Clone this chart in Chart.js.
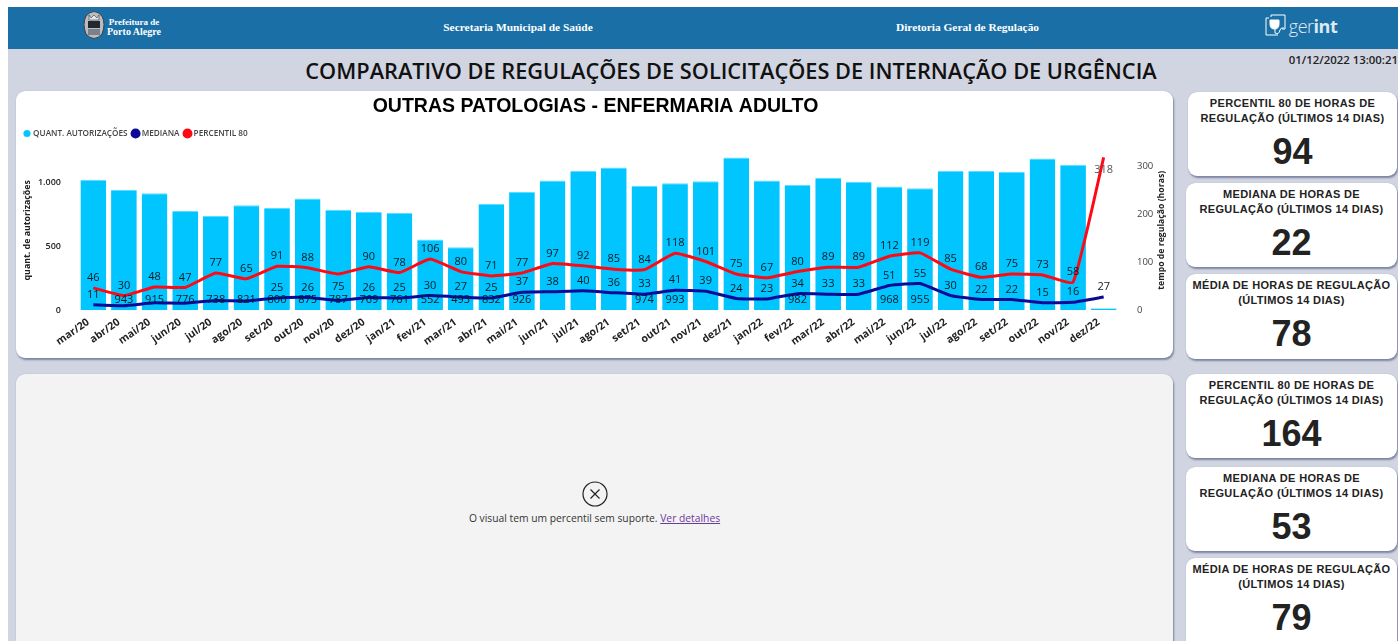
<!DOCTYPE html>
<html lang="pt-BR">
<head>
<meta charset="utf-8">
<title>Comparativo de regulações</title>
<script src="https://cdn.jsdelivr.net/npm/chart.js@4"></script>
<style>
html, body { margin: 0; padding: 0; background: #fff; overflow: hidden; }
#page { position: absolute; left: 8px; top: 7px; width: 1390px; height: 634px; background: #d1d5e1; overflow: hidden; }
.abs { position: absolute; }
#header { left: 0; top: 0; width: 1390px; height: 42px; background: #1a6fa6; color: #fff; }
#header span { position: absolute; top: 14px; font: bold 11.4px "Liberation Serif", serif; white-space: nowrap; transform: translateX(-50%); }
#maintitle { left: 0; top: 49px; width: 1446px; text-align: center; font: 600 21.75px "Open Sans", sans-serif; color: #111; white-space: nowrap; }
#stamp { right: 0; top: 45px; font: 600 11.4px "Open Sans", sans-serif; color: #222; }
.card { background: #fff; border-radius: 9px; box-shadow: 1px 2px 2px #7d84a3, 0 0 1px #9aa0b8; }
#chartcard { left: 8px; top: 84px; width: 1157px; height: 267px; }
#chartcard canvas { position: absolute; left: 0; top: 0; }
#errcard { left: 8px; top: 367px; width: 1157px; height: 280px; background: #f3f3f3; }
#errmsg { left: 0; top: 137px; width: 1157px; text-align: center; font: 10.3px "Open Sans", sans-serif; color: #333; }
#errmsg a { color: #6a3a9c; text-decoration: underline; }
#erricon { left: 566px; top: 107px; }
.kpi { left: 1178px; width: 211px; text-align: center; font-family: "Liberation Sans", Arial, sans-serif; color: #222; }
.kpi .t { position: absolute; left: 0; right: 0; top: 4px; font-weight: bold; font-size: 11px; line-height: 14.5px; letter-spacing: 0.35px; }
.kpi .v { position: absolute; left: 0; right: 0; top: 41px; font-weight: bold; font-size: 36px; line-height: 38px; }
</style>
</head>
<body>
<div id="page">
  <div id="header" class="abs">
    <svg class="abs" style="left:74px;top:3px" width="24" height="31" viewBox="0 0 24 31">
      <path d="M4 6 Q12 -3 20 6 Q24 14 20 24 Q12 33 4 24 Q0 14 4 6 Z" fill="#b9bdc2" stroke="#3a4046" stroke-width="1"/>
      <path d="M7 5 L9 8 L12 5 L15 8 L17 5 V10 H7 Z" fill="#e4e6e8" stroke="#3a4046" stroke-width="0.6"/>
      <rect x="6" y="11" width="12" height="7" fill="#23282e"/>
      <rect x="6" y="19" width="12" height="6" fill="#7a8188"/>
    </svg>
    <span style="left:126px;top:10px;font-size:9px;line-height:10px;text-align:center">Prefeitura de<br><b style="font-size:10px">Porto Alegre</b></span>
    <span style="left:510px">Secretaria Municipal de Saúde</span>
    <span style="left:959.5px">Diretoria Geral de Regulação</span>
    <svg class="abs" style="left:1257px;top:7px" width="22" height="22" viewBox="0 0 22 22" fill="none" stroke="#fff" stroke-width="1">
      <path d="M6 3 V1 H20 V15 H17"/>
      <path d="M4 4 H1 V21 H13"/>
      <path d="M5 6 H14 V10 Q14 15 9.5 15 Q5 15 5 10 Z" fill="#fff"/>
      <path d="M10 15 V19 Q14 21 15 16 Q16 13 19 14"/>
    </svg>
    <span style="left:1305px;top:7px;font:300 18px 'Open Sans',sans-serif;letter-spacing:-0.5px;opacity:.85">ger<b style="font-weight:700">int</b></span>
  </div>
  <div id="maintitle" class="abs">COMPARATIVO DE REGULAÇÕES DE SOLICITAÇÕES DE INTERNAÇÃO DE URGÊNCIA</div>
  <div id="stamp" class="abs">01/12/2022 13:00:21</div>

  <div id="chartcard" class="abs card"><canvas id="chart" width="1157" height="267"></canvas></div>

  <div id="errcard" class="abs card">
    <svg id="erricon" class="abs" width="26" height="26" viewBox="0 0 26 26" fill="none" stroke="#222" stroke-width="1.2">
      <circle cx="13" cy="13" r="12"/><path d="M8.5 8.5 L17.5 17.5 M17.5 8.5 L8.5 17.5"/>
    </svg>
    <div id="errmsg" class="abs">O visual tem um percentil sem suporte. <a href="#">Ver detalhes</a></div>
  </div>

  <div class="abs kpi card" style="left:1180px;width:209px;top:85px;height:84px"><div class="t">PERCENTIL 80 DE HORAS DE<br>REGULAÇÃO (ÚLTIMOS 14 DIAS)</div><div class="v">94</div></div>
  <div class="abs kpi card" style="top:176px;height:84px"><div class="t">MEDIANA DE HORAS DE<br>REGULAÇÃO (ÚLTIMOS 14 DIAS)</div><div class="v">22</div></div>
  <div class="abs kpi card" style="top:267px;height:85px"><div class="t">MÉDIA DE HORAS DE REGULAÇÃO<br>(ÚLTIMOS 14 DIAS)</div><div class="v">78</div></div>
  <div class="abs kpi card" style="top:367px;height:84px"><div class="t">PERCENTIL 80 DE HORAS DE<br>REGULAÇÃO (ÚLTIMOS 14 DIAS)</div><div class="v">164</div></div>
  <div class="abs kpi card" style="top:460px;height:84px"><div class="t">MEDIANA DE HORAS DE<br>REGULAÇÃO (ÚLTIMOS 14 DIAS)</div><div class="v">53</div></div>
  <div class="abs kpi card" style="top:551px;height:100px"><div class="t">MÉDIA DE HORAS DE REGULAÇÃO<br>(ÚLTIMOS 14 DIAS)</div><div class="v">79</div></div>
</div>

<script>
const months = ['mar/20','abr/20','mai/20','jun/20','jul/20','ago/20','set/20','out/20','nov/20','dez/20','jan/21','fev/21','mar/21','abr/21','mai/21','jun/21','jul/21','ago/21','set/21','out/21','nov/21','dez/21','jan/22','fev/22','mar/22','abr/22','mai/22','jun/22','jul/22','ago/22','set/22','out/22','nov/22','dez/22']
const autorizacoes = [1019,943,915,776,738,821,800,875,787,769,761,552,493,832,926,1016,1092,1118,974,993,1010,1195,1016,982,1037,1005,968,955,1092,1090,1082,1188,1139,14]
const mediana = [11,9,15,14,20,19,25,26,20,26,25,30,27,25,37,38,40,36,33,41,39,24,23,34,33,33,51,55,30,22,22,15,16,27]
const percentil80 = [46,30,48,47,77,65,91,88,75,90,78,106,80,71,77,97,92,85,84,118,101,75,67,80,89,89,112,119,85,68,75,73,58,318]

// the report drops these labels when they collide, indexes into the arrays above
const barLabelHidden = [0,15,16,17,20,21,22,24,25,28,29,30,31,32,33]
const medianaLabelHidden = [1,2,3,4,5,8]
const percentilLabelBelow = [8,33]

const fmt = v => v.toLocaleString('pt-BR')

// data labels and the right axis title, chart.js has no option for those
const labelsPlugin = {
    id: 'labels',
    beforeInit(chart) {
        // leaves some air between legend and plot
        const fit = chart.legend.fit
        chart.legend.fit = function () {
            fit.call(this)
            this.height += 3
        }
    },
    afterLayout(chart) {
        chart.legend.left += 1
    },
    afterDatasetsDraw(chart) {
        const c = chart.ctx
        const base = chart.scales.y.getPixelForValue(0)
        c.save()
        c.textAlign = 'center'
        c.textBaseline = 'middle'
        c.font = '500 11px "Open Sans"'
        c.fillStyle = '#0a1a22'
        chart.getDatasetMeta(0).data.forEach((bar, i) => {
            if (!barLabelHidden.includes(i)) c.fillText(fmt(autorizacoes[i]), bar.x, base - 10)
        })
        chart.getDatasetMeta(1).data.forEach((pt, i) => {
            if (!medianaLabelHidden.includes(i)) c.fillText(fmt(mediana[i]), pt.x, pt.y - 10)
        })
        chart.getDatasetMeta(2).data.forEach((pt, i) => {
            const below = percentilLabelBelow.includes(i)
            c.fillStyle = i === 33 ? '#555' : '#0a1a22'
            c.fillText(fmt(percentil80[i]), pt.x, pt.y + (below ? 13 : -10))
        })
        const r = chart.scales.y1
        c.fillStyle = '#222'
        c.font = 'bold 8.7px "Open Sans"'
        c.translate(r.left + 43, (r.top + r.bottom) / 2)
        c.rotate(-Math.PI / 2)
        c.fillText('tempo de regulação (horas)', 0, 0)
        c.restore()
    },
}

new Chart(document.getElementById('chart'), {
    data: {
        labels: months,
        datasets: [
            { type: 'bar', label: 'QUANT. AUTORIZAÇÕES', data: autorizacoes, yAxisID: 'y', order: 3, backgroundColor: '#00c5ff', borderColor: '#5fdcff', borderWidth: { top: 1 }, barPercentage: 0.84, categoryPercentage: 1 },
            { type: 'line', label: 'MEDIANA', data: mediana, yAxisID: 'y1', order: 2, borderColor: '#0a0a96', backgroundColor: '#0a0a96', borderWidth: 3, pointRadius: 0, tension: 0.12 },
            { type: 'line', label: 'PERCENTIL 80', data: percentil80, yAxisID: 'y1', order: 1, borderColor: '#ff0a14', backgroundColor: '#ff0a14', borderWidth: 3, pointRadius: 0, tension: 0.12 },
        ],
    },
    options: {
        responsive: false,
        animation: false,
        layout: { padding: { left: 2, right: 0, top: 0, bottom: 0 } },
        plugins: {
            tooltip: { enabled: false },
            title: {
                display: true,
                text: 'OUTRAS PATOLOGIAS - ENFERMARIA ADULTO',
                color: '#000',
                font: { family: '"Liberation Sans"', size: 19.5, weight: 'bold' },
                padding: { top: 4, bottom: 5 },
            },
            legend: {
                position: 'top',
                align: 'start',
                labels: {
                    sort: (a, b) => a.datasetIndex - b.datasetIndex,
                    usePointStyle: true,
                    pointStyle: 'circle',
                    boxWidth: 4,
                    boxHeight: 5,
                    padding: 6,
                    color: '#444',
                    font: { family: '"Open Sans"', size: 8.2, weight: '600' },
                },
            },
        },
        scales: {
            x: {
                grid: { display: false },
                border: { display: false },
                afterFit: s => { s.height = 48 },
                ticks: { minRotation: 35, maxRotation: 35, autoSkip: false, color: '#222', padding: -2, labelOffset: -5, font: { family: '"Open Sans"', size: 10.5, weight: 'bold' } },
            },
            y: {
                position: 'left',
                min: 0,
                max: 1250,
                grid: { display: false },
                border: { display: false },
                afterFit: s => { s.width = 60 },
                afterBuildTicks: s => { s.ticks = [{ value: 0 }, { value: 500 }, { value: 1000 }] },
                title: { display: true, text: 'quant. de autorizações', color: '#222', font: { family: '"Open Sans"', size: 8.8, weight: 'bold' } },
                ticks: { color: '#222', padding: 9, callback: fmt, font: { family: '"Open Sans"', size: 9, weight: '600' } },
            },
            y1: {
                position: 'right',
                min: 0,
                max: 332,
                grid: { display: false },
                border: { display: false },
                afterFit: s => { s.width = 54 },
                afterBuildTicks: s => { s.ticks = [{ value: 0 }, { value: 100 }, { value: 200 }, { value: 300 }] },
                ticks: { color: '#444', padding: 10, font: { family: '"Open Sans"', size: 9.5 } },
            },
        },
    },
    plugins: [labelsPlugin],
})
</script>
</body>
</html>
